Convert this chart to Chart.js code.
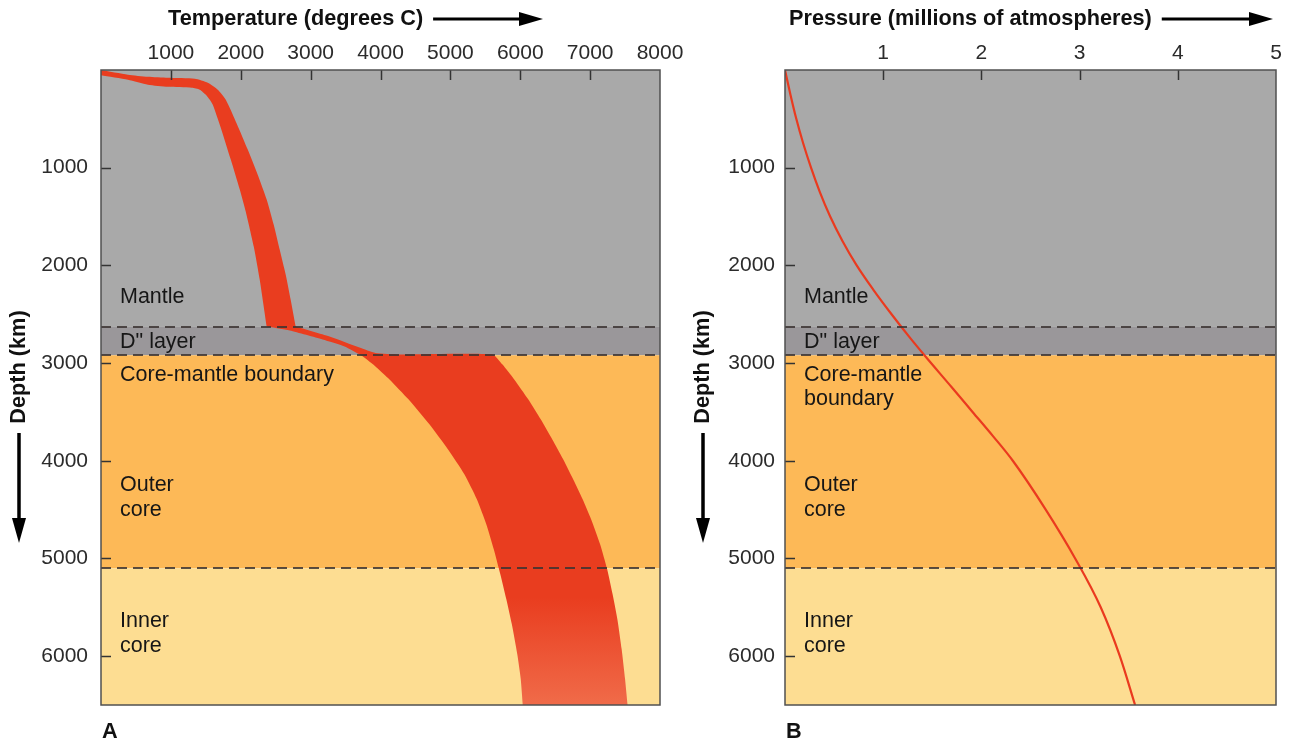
<!DOCTYPE html>
<html><head><meta charset="utf-8">
<script src="https://cdn.jsdelivr.net/npm/chart.js@4.4.1/dist/chart.umd.min.js"></script>
<style>
html,body{margin:0;padding:0;background:#fff;width:1291px;height:740px;overflow:hidden}
#wa{position:absolute;left:0;top:0;width:700px;height:740px}
#wb{position:absolute;left:680px;top:0;width:611px;height:740px}
canvas{display:block}
</style></head><body>
<div id="wa"><canvas id="ca" width="700" height="740"></canvas></div>
<div id="wb"><canvas id="cb" width="611" height="740"></canvas></div>
<script>
// ---------- data ----------
const tempTicks  = [1000, 2000, 3000, 4000, 5000, 6000, 7000, 8000];
const pressTicks = [1, 2, 3, 4, 5];
const depthTicks = [1000, 2000, 3000, 4000, 5000, 6000];

// layer boundaries (km)
const layerTop    = [0, 2630, 2920, 5100];
const layerBottom = [2630, 2920, 5100, 6500];
const boundaries  = [2630, 2920, 5100];

// hot (right/upper) edge of the temperature band, surface to centre
// (corner points are listed twice so the curve keeps a sharp corner there)
const hotDepth = [0, 48, 69, 79, 89, 130, 201, 304, 549, 815, 1071, 1326, 1582, 1838, 2093, 2349, 2625, 2625,
                  2728, 2841, 2896, 2911, 2911, 3013, 3167, 3371, 3576, 3780, 3985, 4189, 4394, 4598, 4854, 5109, 5365, 5621, 5928, 6234, 6500, 6500];
const hotTemp  = [0, 386, 671, 957, 1343, 1529, 1671, 1786, 1943, 2100, 2243, 2371, 2471, 2557, 2643, 2714, 2786, 2786,
                  3271, 3700, 3929, 4271, 5600, 5743, 5914, 6114, 6293, 6457, 6614, 6757, 6893, 7014, 7143, 7243, 7321, 7390, 7451, 7500, 7536, 7536];
// cool (left/lower) edge of the temperature band, surface to centre
const coolDepth = [53, 99, 150, 171, 181, 201, 253, 304, 355, 590, 917, 1224, 1449, 1807, 2144, 2625, 2625,
                   2666, 2758, 2830, 2931, 3044, 3167, 3371, 3627, 3882, 4138, 4394, 4649, 4905, 5160, 5416, 5672, 5979, 6234, 6500, 6500];
const coolTemp  = [0, 386, 671, 957, 1300, 1414, 1500, 1557, 1600, 1714, 1857, 1986, 2071, 2186, 2271, 2371, 2371,
                   2700, 3171, 3486, 3743, 3943, 4129, 4400, 4700, 4964, 5200, 5379, 5514, 5621, 5714, 5800, 5879, 5957, 6007, 6036, 6036];

// pressure curve
const pressDepth = [0, 250, 500, 750, 1000, 1250, 1500, 1750, 2000, 2250, 2500, 2750, 2920, 3250, 3500, 3750, 4000, 4500, 5000, 5500, 6000, 6500];
const pressure   = [0, 0.055, 0.115, 0.185, 0.265, 0.355, 0.46, 0.585, 0.73, 0.90, 1.085, 1.28, 1.42, 1.70, 1.91, 2.12, 2.32, 2.655, 2.955, 3.215, 3.41, 3.565];

// ---------- helpers ----------
const FONT = '"Liberation Sans", Arial, Helvetica, sans-serif';
const layerColors = ['#a9a9a9', '#9a979a', '#fdb957', '#fddd92'];

const bandPoints = hotDepth.map((d, i) => ({x: hotTemp[i], y: d}))
  .concat(coolDepth.map((d, i) => ({x: coolTemp[i], y: d})).reverse());
const pressPoints = pressDepth.map((d, i) => ({x: pressure[i], y: d}));

function hArrow(ctx, x0, x1, y) {
  ctx.save();
  ctx.strokeStyle = '#000'; ctx.fillStyle = '#000'; ctx.lineWidth = 3;
  ctx.beginPath(); ctx.moveTo(x0, y); ctx.lineTo(x1 - 18, y); ctx.stroke();
  ctx.beginPath(); ctx.moveTo(x1, y); ctx.lineTo(x1 - 24, y - 7); ctx.lineTo(x1 - 24, y + 7); ctx.closePath(); ctx.fill();
  ctx.restore();
}
function vArrow(ctx, x, y0, y1) {
  ctx.save();
  ctx.strokeStyle = '#000'; ctx.fillStyle = '#000'; ctx.lineWidth = 3.5;
  ctx.beginPath(); ctx.moveTo(x, y0); ctx.lineTo(x, y1 - 18); ctx.stroke();
  ctx.beginPath(); ctx.moveTo(x, y1); ctx.lineTo(x - 7, y1 - 25); ctx.lineTo(x + 7, y1 - 25); ctx.closePath(); ctx.fill();
  ctx.restore();
}

function makeDecor(cfg) {
  return {
    id: 'decor',
    beforeDatasetsDraw(chart) {
      const {ctx, chartArea: a, scales: {y}} = chart;
      ctx.save();
      layerTop.forEach((t, i) => {
        const y0 = y.getPixelForValue(t), y1 = y.getPixelForValue(layerBottom[i]);
        ctx.fillStyle = layerColors[i];
        ctx.fillRect(a.left, y0, a.right - a.left, y1 - y0);
      });
      ctx.restore();
    },
    afterDatasetsDraw(chart) {
      const {ctx, chartArea: a, scales: {x, y}} = chart;
      ctx.save();
      // dashed boundaries
      ctx.strokeStyle = 'rgba(60,52,50,0.85)'; ctx.lineWidth = 2; ctx.setLineDash([10, 6]);
      boundaries.forEach(b => {
        const py = Math.round(y.getPixelForValue(b));
        ctx.beginPath(); ctx.moveTo(a.left, py); ctx.lineTo(a.right, py); ctx.stroke();
      });
      ctx.setLineDash([]);
      // tick marks (inward)
      ctx.strokeStyle = '#333'; ctx.lineWidth = 1.5;
      cfg.xTicks.forEach(v => {
        const px = Math.round(x.getPixelForValue(v)) + 0.5;
        if (px < a.right - 2) { ctx.beginPath(); ctx.moveTo(px, a.top); ctx.lineTo(px, a.top + 10); ctx.stroke(); }
      });
      depthTicks.forEach(v => {
        const py = Math.round(y.getPixelForValue(v)) + 0.5;
        ctx.beginPath(); ctx.moveTo(a.left, py); ctx.lineTo(a.left + 10, py); ctx.stroke();
      });
      // frame
      ctx.strokeStyle = '#505050'; ctx.lineWidth = 1.5;
      ctx.strokeRect(a.left, a.top, a.right - a.left, a.bottom - a.top);
      // region labels
      ctx.fillStyle = '#161616'; ctx.font = '21.5px ' + FONT; ctx.textAlign = 'left'; ctx.textBaseline = 'middle';
      cfg.labels.forEach(l => ctx.fillText(l[0], a.left + 19, a.top + l[1]));
      ctx.restore();
    },
    afterDraw(chart) {
      const {ctx} = chart;
      ctx.save();
      ctx.fillStyle = '#111'; ctx.font = 'bold 21.7px ' + FONT; ctx.textAlign = 'left'; ctx.textBaseline = 'middle';
      ctx.fillText(cfg.title, cfg.titleX, 19);
      const w = ctx.measureText(cfg.title).width;
      hArrow(ctx, cfg.titleX + w + 10, cfg.arrowEnd, 19);
      // depth title
      ctx.save();
      ctx.translate(cfg.depthX, 367); ctx.rotate(-Math.PI / 2);
      ctx.textAlign = 'center'; ctx.fillText('Depth (km)', 0, 0);
      ctx.restore();
      vArrow(ctx, cfg.depthX, 433, 543);
      ctx.textAlign = 'left';
      ctx.fillText(cfg.letter, chart.chartArea.left + 1, 732);
      ctx.restore();
    }
  };
}

function axisCfg(ticksArr, min, max, pos, size, pad, reverse) {
  return {
    type: 'linear', position: pos, min, max, reverse: !!reverse,
    grid: {display: false, drawTicks: false}, border: {display: false},
    afterBuildTicks: s => { s.ticks = ticksArr.map(v => ({value: v})); },
    afterFit: s => {
      if (pos === 'top') s.height = size; else s.width = size;
      s.paddingLeft = 0; s.paddingRight = 0; s.paddingTop = 0; s.paddingBottom = 0;
    },
    ticks: {
      padding: pad, color: '#2b2b2b', autoSkip: false, maxRotation: 0,
      font: {family: FONT, size: 21},
      callback: v => String(v)
    }
  };
}

const common = {
  responsive: false, animation: false, events: [],
  plugins: {legend: {display: false}, tooltip: {enabled: false}}
};

// ---------- chart A : temperature ----------
new Chart(document.getElementById('ca'), {
  type: 'line',
  data: {datasets: [{
    data: bandPoints, parsing: false,
    borderWidth: 0, pointRadius: 0, tension: 0.2, fill: 'shape',
    backgroundColor: (c) => {
      const ch = c.chart, a = ch.chartArea;
      if (!a) return '#e93d1f';
      const y = ch.scales.y;
      const g = ch.ctx.createLinearGradient(0, y.getPixelForValue(5400), 0, a.bottom);
      g.addColorStop(0, '#e93d1f'); g.addColorStop(1, '#f06b49');
      return g;
    }
  }]},
  options: Object.assign({}, common, {
    layout: {padding: {left: 0, top: 0, right: 40, bottom: 35}},
    scales: {
      x: axisCfg(tempTicks, 0, 8000, 'top', 70, 4),
      y: axisCfg(depthTicks, 0, 6500, 'left', 101, 13, true)
    }
  }),
  plugins: [makeDecor({
    xTicks: tempTicks, title: 'Temperature (degrees C)', titleX: 168, arrowEnd: 543,
    depthX: 19, letter: 'A',
    labels: [['Mantle', 227], ['D" layer', 272], ['Core-mantle boundary', 305], ['Outer', 415], ['core', 440], ['Inner', 551], ['core', 576]]
  })]
});

// ---------- chart B : pressure ----------
new Chart(document.getElementById('cb'), {
  type: 'line',
  data: {datasets: [{
    data: pressPoints, parsing: false,
    borderColor: '#ea3a1f', borderWidth: 2.2, pointRadius: 0, cubicInterpolationMode: 'monotone', fill: false
  }]},
  options: Object.assign({}, common, {
    layout: {padding: {left: 0, top: 0, right: 15, bottom: 35}},
    scales: {
      x: axisCfg(pressTicks, 0, 5, 'top', 70, 4),
      y: axisCfg(depthTicks, 0, 6500, 'left', 105, 10, true)
    }
  }),
  plugins: [makeDecor({
    xTicks: pressTicks, title: 'Pressure (millions of atmospheres)', titleX: 109, arrowEnd: 593,
    depthX: 23, letter: 'B',
    labels: [['Mantle', 227], ['D" layer', 272], ['Core-mantle', 305], ['boundary', 329], ['Outer', 415], ['core', 440], ['Inner', 551], ['core', 576]]
  })]
});
</script>
</body></html>
